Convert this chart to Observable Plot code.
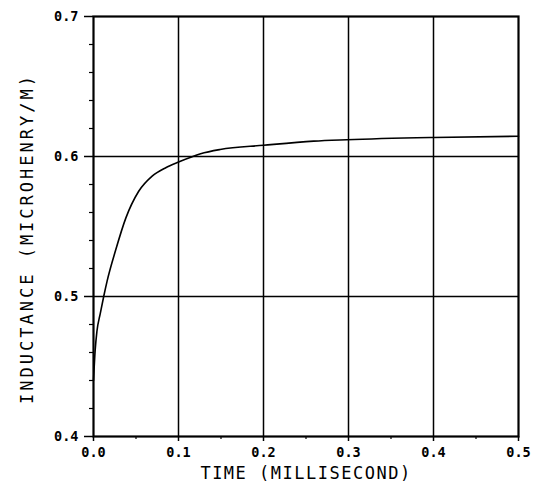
<!DOCTYPE html>
<html>
<head>
<meta charset="utf-8">
<script src="https://cdn.jsdelivr.net/npm/d3@7"></script>
<script src="https://cdn.jsdelivr.net/npm/@observablehq/plot@0.6"></script>
<style>
  html, body { margin: 0; padding: 0; background: #fff; }
  #chart svg { display: block; }
</style>
</head>
<body>
<div id="chart"></div>
<script>
// Data
const timeMs = [0, 0.002, 0.004, 0.008, 0.012, 0.016, 0.026, 0.038, 0.053, 0.069, 0.085, 0.100, 0.126, 0.149, 0.200, 0.259, 0.298, 0.400, 0.500];
const inductance = [0.440, 0.462, 0.475, 0.488, 0.500, 0.511, 0.533, 0.556, 0.575, 0.586, 0.592, 0.596, 0.602, 0.605, 0.608, 0.611, 0.612, 0.6136, 0.6145];

const xTicks = [0, 0.1, 0.2, 0.3, 0.4, 0.5];
const xMinorTicks = [0.05, 0.15, 0.25, 0.35, 0.45];
const yTicks = [0.4, 0.5, 0.6, 0.7];
const yMinorTicks = [0.42, 0.44, 0.46, 0.48, 0.52, 0.54, 0.56, 0.58, 0.62, 0.64, 0.66, 0.68];
const xGrid = [0.1, 0.2, 0.3, 0.4];
const yGrid = [0.5, 0.6];
const xTitle = "TIME (MILLISECOND)";
const yTitle = "INDUCTANCE (MICROHENRY/M)";

const data = timeMs.map((t, i) => ({t, L: inductance[i]}));

const tickFont = {fontFamily: "DejaVu Sans Mono", fontWeight: "bold", fontSize: 13.5};

const chart = Plot.plot({
  width: 539,
  height: 485,
  marginLeft: 93,
  marginRight: 21,
  marginTop: 16,
  marginBottom: 49,
  style: {background: "#fff", color: "#000", fontFamily: "DejaVu Sans Mono"},
  x: {domain: [0, 0.5]},
  y: {domain: [0.4, 0.7]},
  marks: [
    Plot.ruleX(xGrid, {stroke: "#000", strokeWidth: 1.5}),
    Plot.ruleY(yGrid, {stroke: "#000", strokeWidth: 1.5}),
    Plot.line(data, {x: "t", y: "L", stroke: "#000", strokeWidth: 1.6, curve: "monotone-x"}),
    Plot.frame({stroke: "#000", strokeWidth: 2.2}),
    Plot.axisX({ticks: xTicks, tickFormat: d3.format(".1f"), tickSize: 5, tickPadding: 6, strokeWidth: 1.5, label: null, ...tickFont}),
    Plot.axisX({ticks: xMinorTicks, tickSize: 3, text: null, strokeWidth: 1.2, label: null}),
    Plot.axisY({ticks: yTicks, tickFormat: d3.format(".1f"), tickSize: 9, tickPadding: 6, strokeWidth: 1.5, label: null, ...tickFont}),
    Plot.axisY({ticks: yMinorTicks, tickSize: 4, text: null, strokeWidth: 1.2, label: null}),
    Plot.text([xTitle], {frameAnchor: "bottom", dy: 37, textAnchor: "middle", lineAnchor: "middle", fontSize: 17, fontFamily: "DejaVu Sans Mono", fill: "#000"}),
    Plot.text([yTitle], {frameAnchor: "left", dx: -66, dy: 12, rotate: -90, textAnchor: "middle", lineAnchor: "middle", fontSize: 17, fontFamily: "DejaVu Sans Mono", fill: "#000"})
  ]
});
const titleGroups = chart.querySelectorAll('g[aria-label="text"]');
if (titleGroups[0]) titleGroups[0].querySelectorAll("text").forEach(t => t.style.letterSpacing = "1.5px");
if (titleGroups[1]) titleGroups[1].querySelectorAll("text").forEach(t => t.style.letterSpacing = "3px");
document.getElementById("chart").append(chart);
</script>
</body>
</html>
